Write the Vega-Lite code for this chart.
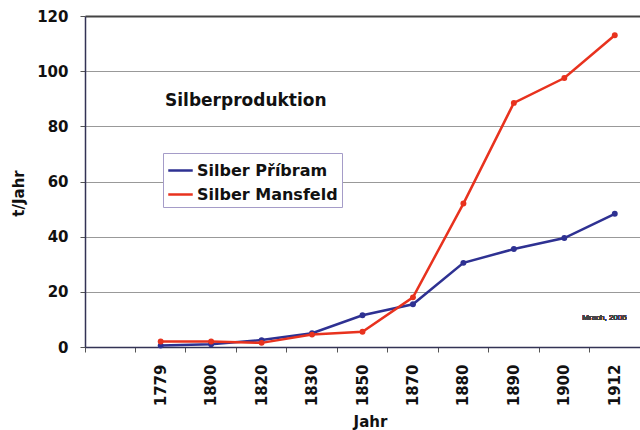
{
  "$schema": "https://vega.github.io/schema/vega-lite/v6.json",
  "width": 555,
  "height": 331,
  "autosize": {"type": "none"},
  "padding": {"left": 85, "top": 16, "right": 0, "bottom": 83},
  "background": "white",
  "config": {
    "view": {"stroke": null},
    "font": "DejaVu Sans"
  },
  "title": {
    "text": "Silberproduktion",
    "anchor": "start",
    "frame": "group",
    "orient": "top",
    "dx": 80,
    "dy": 118,
    "font": "DejaVu Sans",
    "fontSize": 17,
    "fontWeight": "bold",
    "color": "#111",
    "baseline": "alphabetic"
  },
  "data": {
    "values": [
      {"Jahr": "1779", "Serie": "Silber Příbram", "t": 0.5},
      {"Jahr": "1800", "Serie": "Silber Příbram", "t": 1},
      {"Jahr": "1820", "Serie": "Silber Příbram", "t": 2.5},
      {"Jahr": "1830", "Serie": "Silber Příbram", "t": 5},
      {"Jahr": "1850", "Serie": "Silber Příbram", "t": 11.5},
      {"Jahr": "1870", "Serie": "Silber Příbram", "t": 15.5},
      {"Jahr": "1880", "Serie": "Silber Příbram", "t": 30.5},
      {"Jahr": "1890", "Serie": "Silber Příbram", "t": 35.5},
      {"Jahr": "1900", "Serie": "Silber Příbram", "t": 39.5},
      {"Jahr": "1912", "Serie": "Silber Příbram", "t": 48.3},
      {"Jahr": "1779", "Serie": "Silber Mansfeld", "t": 2},
      {"Jahr": "1800", "Serie": "Silber Mansfeld", "t": 2},
      {"Jahr": "1820", "Serie": "Silber Mansfeld", "t": 1.5},
      {"Jahr": "1830", "Serie": "Silber Mansfeld", "t": 4.5},
      {"Jahr": "1850", "Serie": "Silber Mansfeld", "t": 5.5},
      {"Jahr": "1870", "Serie": "Silber Mansfeld", "t": 18},
      {"Jahr": "1880", "Serie": "Silber Mansfeld", "t": 52},
      {"Jahr": "1890", "Serie": "Silber Mansfeld", "t": 88.5},
      {"Jahr": "1900", "Serie": "Silber Mansfeld", "t": 97.5},
      {"Jahr": "1912", "Serie": "Silber Mansfeld", "t": 113}
    ]
  },
  "encoding": {
    "x": {
      "field": "Jahr",
      "type": "nominal",
      "sort": null,
      "scale": {
        "type": "band",
        "domain": [" ", "1779", "1800", "1820", "1830", "1850", "1870", "1880", "1890", "1900", "1912"],
        "paddingInner": 0,
        "paddingOuter": 0
      },
      "axis": {
        "title": "Jahr",
        "titleFont": "DejaVu Sans",
        "titleFontSize": 15,
        "titleFontWeight": "bold",
        "titleColor": "#111",
        "titleX": 285,
        "titleY": 79,
        "titleBaseline": "alphabetic",
        "labelAngle": -90,
        "labelFont": "DejaVu Sans",
        "labelFontSize": 15,
        "labelFontWeight": "bold",
        "labelColor": "#111",
        "labelPadding": 12,
        "bandPosition": 0,
        "ticks": true,
        "tickSize": 5,
        "tickColor": "#555",
        "domainColor": "#333355",
        "domainWidth": 1.5,
        "grid": false
      }
    },
    "y": {
      "field": "t",
      "type": "quantitative",
      "scale": {"domain": [0, 120], "nice": false},
      "axis": {
        "title": "t/Jahr",
        "titleFont": "DejaVu Sans",
        "titleFontSize": 15,
        "titleFontWeight": "bold",
        "titleColor": "#111",
        "titleX": -67,
        "titleY": 177,
        "titleAngle": -90,
        "titleBaseline": "middle",
        "titleAlign": "center",
        "values": [0, 20, 40, 60, 80, 100, 120],
        "labelFont": "DejaVu Sans",
        "labelFontSize": 15,
        "labelFontWeight": "bold",
        "labelColor": "#111",
        "labelPadding": 12,
        "tickSize": 5,
        "tickColor": "#555",
        "domainColor": "#333355",
        "domainWidth": 1.5,
        "grid": true,
        "gridColor": {"condition": {"test": "datum.value == 120", "value": "#444"}, "value": "#999"},
        "gridWidth": {"condition": {"test": "datum.value == 120", "value": 1.8}, "value": 1}
      }
    },
    "color": {
      "field": "Serie",
      "type": "nominal",
      "sort": null,
      "scale": {
        "domain": ["Silber Příbram", "Silber Mansfeld"],
        "range": ["#2e3192", "#e8321e"]
      },
      "legend": {
        "title": null,
        "orient": "none",
        "legendX": 78,
        "legendY": 137,
        "symbolType": "stroke",
        "symbolStrokeWidth": 2.5,
        "symbolSize": 600,
        "labelFont": "DejaVu Sans",
        "labelFontSize": 16,
        "labelFontWeight": "bold",
        "labelColor": "#111",
        "labelOffset": 3,
        "strokeColor": "#a59cc8",
        "padding": 4,
        "rowPadding": 2,
        "fillColor": "white"
      }
    }
  },
  "layer": [
    {
      "mark": {"type": "line", "strokeWidth": 2.5}
    },
    {
      "mark": {"type": "point", "filled": true, "size": 35, "opacity": 1}
    },
    {
      "mark": {"type": "text", "fontSize": 8, "font": "Liberation Sans", "color": "#444", "align": "right", "baseline": "middle", "dx": 12},
      "encoding": {
        "x": {"datum": "1912"},
        "y": {"datum": 10.5},
        "text": {"value": "Mrach, 2005"},
        "color": {"value": "#444"}
      }
    }
  ]
}
